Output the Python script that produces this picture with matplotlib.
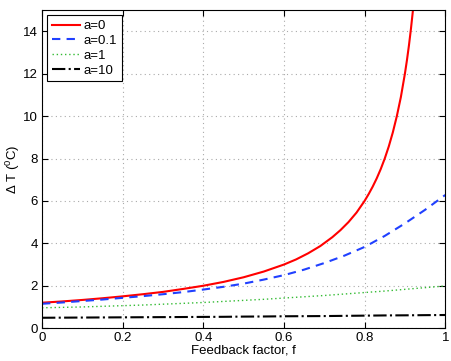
import numpy as np
import matplotlib
matplotlib.use('Agg')
import matplotlib.pyplot as plt

plt.rcParams['font.family'] = ['Liberation Sans', 'DejaVu Sans']
plt.rcParams['mathtext.fontset'] = 'custom'
plt.rcParams['mathtext.rm'] = 'Liberation Sans'

f_red = [0, 0.05, 0.1, 0.15, 0.2, 0.25, 0.3, 0.35, 0.4, 0.45, 0.5, 0.55, 0.6,
         0.63, 0.66, 0.69, 0.72, 0.74, 0.76, 0.78, 0.8, 0.81, 0.82, 0.83, 0.84,
         0.85, 0.86, 0.87, 0.88, 0.89, 0.9, 0.905, 0.91, 0.915, 0.92]
dT_a0 = [1.20, 1.26, 1.33, 1.41, 1.50, 1.60, 1.71, 1.85, 2.00, 2.18, 2.40, 2.67, 3.00,
         3.24, 3.53, 3.87, 4.29, 4.62, 5.00, 5.45, 6.00, 6.32, 6.67, 7.06, 7.50,
         8.00, 8.57, 9.23, 10.0, 10.9, 12.0, 12.63, 13.33, 14.12, 15.0]

f_vals = [0, 0.05, 0.1, 0.15, 0.2, 0.25, 0.3, 0.35, 0.4, 0.45, 0.5, 0.55, 0.6,
          0.65, 0.7, 0.75, 0.8, 0.85, 0.9, 0.95, 1.0]
dT_a01 = [1.15, 1.21, 1.28, 1.35, 1.43, 1.51, 1.60, 1.70, 1.82, 1.95, 2.10, 2.29, 2.50,
          2.76, 3.07, 3.42, 3.83, 4.35, 4.94, 5.58, 6.28]
dT_a1 = [0.96, 0.98, 1.00, 1.03, 1.06, 1.09, 1.13, 1.17, 1.21, 1.26, 1.31, 1.36, 1.42,
         1.48, 1.54, 1.61, 1.68, 1.75, 1.83, 1.91, 1.99]
dT_a10 = [0.49, 0.495, 0.50, 0.505, 0.51, 0.515, 0.52, 0.525, 0.53, 0.535, 0.545, 0.55, 0.56,
          0.565, 0.57, 0.58, 0.59, 0.60, 0.605, 0.613, 0.62]

fig = plt.figure(figsize=(4.52, 3.61), dpi=100)
ax = fig.add_axes([0.093, 0.091, 0.892, 0.881])

ax.plot(f_red, dT_a0, '-', color='#ff0000', lw=1.5, label='a=0')
ax.plot(f_vals, dT_a01, '--', color='#2040ff', lw=1.5, dashes=(4, 3), label='a=0.1')
ax.plot(f_vals, dT_a1, color='#33bb33', lw=1.0, linestyle=(0, (1, 2)), label='a=1')
ax.plot(f_vals, dT_a10, '-.', color='black', lw=1.5, label='a=10')

ax.set_xlim(0, 1)
ax.set_ylim(0, 15)
ax.set_xticks([0, 0.2, 0.4, 0.6, 0.8, 1])
ax.set_xticklabels(['0', '0.2', '0.4', '0.6', '0.8', '1'])
ax.set_yticks(range(0, 15, 2))
ax.tick_params(direction='in', top=True, right=True, labelsize=9.5, length=4, pad=3)
ax.grid(True, linestyle=(0, (1, 3)), color='#aaaaaa', lw=0.8)

ax.set_xlabel('Feedback factor, f', fontsize=9.5, labelpad=0)
ax.set_ylabel(r'$\Delta$ T ($^0$C)', fontsize=9.5)
ax.yaxis.set_label_coords(-0.05, 0.5)

leg = ax.legend(loc='upper left', fontsize=9.5, fancybox=False, framealpha=1,
                edgecolor='black', handlelength=2.1, borderaxespad=0.4,
                labelspacing=0.2, handletextpad=0.3, borderpad=0.35)
leg.get_frame().set_linewidth(0.8)

plt.savefig('out.png', dpi=100)
